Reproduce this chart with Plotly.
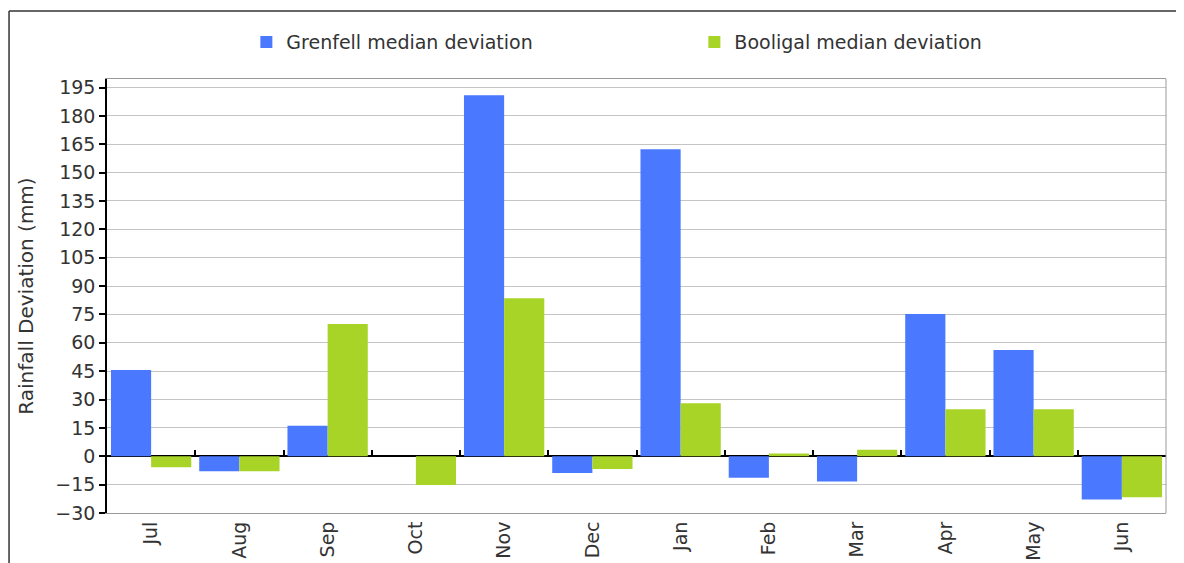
import plotly.graph_objects as go

months = ["Jul", "Aug", "Sep", "Oct", "Nov", "Dec", "Jan", "Feb", "Mar", "Apr", "May", "Jun"]
grenfell = [45.6, -7.9, 16.2, 0, 190.9, -8.8, 162.3, -11.3, -13.4, 75.2, 56.2, -22.9]
booligal = [-5.8, -7.9, 70.0, -15.2, 83.6, -6.7, 28.0, 1.4, 3.5, 24.8, 24.8, -21.7]
ytick_vals = list(range(-30, 196, 15))
y_range = [-30, 199.5]

FONT = "DejaVu Sans"
FS = 19

fig = go.Figure()
fig.add_trace(go.Bar(name="Grenfell median deviation", x=months, y=grenfell,
                     marker=dict(color="#4A78FF", line=dict(width=0))))
fig.add_trace(go.Bar(name="Booligal median deviation", x=months, y=booligal,
                     marker=dict(color="#A8D428", line=dict(width=0))))
# invisible carrier trace so the zero-line tick axis (x2) is drawn
fig.add_trace(go.Bar(x=months, y=grenfell, xaxis="x2", yaxis="y", opacity=0,
                     showlegend=False, hoverinfo="skip"))

zero_pos = (0 - y_range[0]) / (y_range[1] - y_range[0])
n = len(months)

fig.update_layout(
    width=1176, height=555,
    margin=dict(l=99, r=18, t=71, b=50, autoexpand=False),
    paper_bgcolor="white", plot_bgcolor="white",
    font=dict(family=FONT, size=FS, color="#333333"),
    barmode="group", bargap=0.09, bargroupgap=0,
    showlegend=True,
    legend=dict(orientation="h", x=0.1316, xanchor="left", y=1.085, yanchor="middle",
                font=dict(family=FONT, size=FS, color="#333333"),
                entrywidth=403, itemwidth=30, bgcolor="rgba(0,0,0,0)"),
    xaxis=dict(type="category", range=[-0.5, n - 0.5], tickangle=-90, ticks="",
               showline=True, linecolor="#9a9a9a", linewidth=1, mirror=True,
               showgrid=False, automargin=False, ticklabelstandoff=0,
               tickfont=dict(family=FONT, size=FS, color="#333333")),
    xaxis2=dict(type="category", overlaying="x", anchor="free", position=zero_pos,
                range=[-0.5, n - 0.5], tickson="boundaries", ticks="inside",
                ticklen=6, tickwidth=1.5, tickcolor="black", showticklabels=False,
                showgrid=False, zeroline=False, showline=False),
    yaxis=dict(range=y_range, tickmode="array", tickvals=ytick_vals,
               ticks="outside", ticklen=6, tickcolor="black", tickwidth=1.5,
               showline=True, linecolor="black", linewidth=1.5,
               showgrid=True, gridcolor="#c4c4c4", gridwidth=1,
               zeroline=True, zerolinecolor="black", zerolinewidth=1.5,
               automargin=False,
               title=dict(text="Rainfall Deviation (mm)", standoff=16,
                          font=dict(family=FONT, size=20, color="#333333")),
               tickfont=dict(family=FONT, size=FS, color="#333333")),
    shapes=[
        dict(type="line", xref="paper", yref="paper", x0=1, x1=1, y0=0, y1=1,
             line=dict(color="#9a9a9a", width=1)),
        dict(type="line", xref="paper", yref="paper", x0=-0.0925, x1=1.05, y0=1.1567, y1=1.1567,
             line=dict(color="#333333", width=1.5)),
        dict(type="line", xref="paper", yref="paper", x0=-0.0925, x1=-0.0925, y0=-0.2, y1=1.1567,
             line=dict(color="#333333", width=1.5)),
    ],
)

fig.write_html("out.html")
